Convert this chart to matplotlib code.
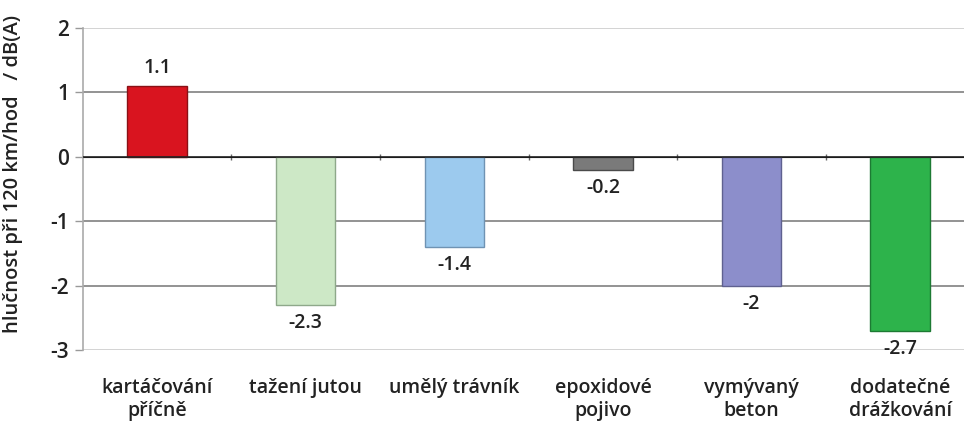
import matplotlib.pyplot as plt
import numpy as np

# hodnoty změny hlučnosti podle úpravy povrchu
kategorie = ["kartáčování\npříčně", "tažení jutou", "umělý trávník",
             "epoxidové\npojivo", "vymývaný\nbeton", "dodatečné\ndrážkování"]
hodnoty = [1.1, -2.3, -1.4, -0.2, -2.0, -2.7]
popisky = ["1.1", "-2.3", "-1.4", "-0.2", "-2", "-2.7"]
barvy = ["#d9141f", "#cde8c6", "#9ccaee", "#7a7a7a", "#8c8ecb", "#2db34b"]
okraje = ["#8a1015", "#8ea88a", "#6f93b3", "#4a4a4a", "#5f6190", "#1d7a33"]
osa_y = [2, 1, 0, -1, -2, -3]

plt.rcParams['font.family'] = ['Open Sans', 'DejaVu Sans']
plt.rcParams['font.weight'] = 'semibold'

fig = plt.figure(figsize=(9.64, 4.21), dpi=100)
ax = fig.add_axes([0.086, 0.1686, 0.914, 0.765])

x = np.arange(len(kategorie))

# vodorovné mřížky
for v in osa_y:
    if v == 0:
        continue
    barva = "#d0d0d0" if v in (2, -3) else "#8a8a8a"
    ax.axhline(v, color=barva, lw=1.3, zorder=1)

ax.bar(x, hodnoty, width=0.4, color=barvy, edgecolor=okraje, linewidth=1, zorder=2)
ax.axhline(0, color="#222222", lw=1.2, zorder=3)

# popisky hodnot
for xi, h, t in zip(x, hodnoty, popisky):
    if h >= 0:
        ax.text(xi, h + 0.12, t, ha="center", va="bottom", fontsize=14, color="#222222")
    else:
        ax.text(xi, h - 0.13, t, ha="center", va="top", fontsize=14, color="#222222")

ax.set_xlim(-0.5, 5.43)
ax.set_ylim(-3, 2)
ax.set_yticks(osa_y)
ax.set_yticklabels([str(v) for v in osa_y], fontsize=15, color="#222222")
ax.tick_params(axis="y", length=6, width=1, color="#999999", pad=4)

ax.set_xticks(x)
ax.set_xticklabels(kategorie, fontsize=14, color="#222222", linespacing=1.2)
ax.tick_params(axis="x", length=0, pad=20)

for s in ["top", "right", "bottom"]:
    ax.spines[s].set_visible(False)
ax.spines["left"].set_color("#aaaaaa")
ax.spines["left"].set_linewidth(1.2)

# značky mezi kategoriemi na nulové ose
sec = ax.secondary_xaxis(0.6)
sec.set_xticks(x[:-1] + 0.5)
sec.set_xticklabels([])
sec.tick_params(length=4, width=1, color="#666666", direction="inout")
sec.spines["bottom"].set_visible(False)

ax.set_ylabel("hlučnost při 120 km/hod   / dB(A)", fontsize=14.5, fontweight="semibold",
              color="#222222")
ax.yaxis.set_label_coords(-0.068, 0.545)

fig.savefig("out.png", dpi=100)
